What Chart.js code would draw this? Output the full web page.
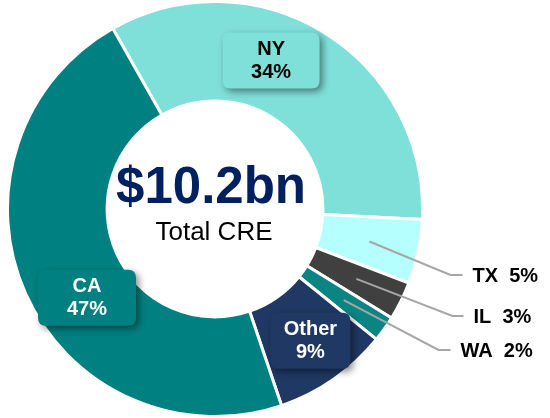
<!DOCTYPE html>
<html>
<head>
<meta charset="utf-8">
<script src="https://cdn.jsdelivr.net/npm/chart.js@4"></script>
<style>
  html, body { margin: 0; padding: 0; background: #fff; }
  #wrap { width: 550px; height: 418px; position: relative; }
</style>
</head>
<body>
<div id="wrap"><canvas id="graficoCre"></canvas></div>
<script>
var estados = ['NY', 'TX', 'IL', 'WA', 'Other', 'CA'];
var percentuais = [34, 5, 3, 2, 9, 47];
var cores = ['#7fdfd9', '#b5ffff', '#404040', '#0b8583', '#203864', '#008080'];
var totalTexto = '$10.2bn';
var subtitulo = 'Total CRE';

// rotulos em caixa (dentro da fatia) e rotulos externos com linha guia
var rotulosCaixa = {
    'NY': { desvio: -11, dr: 1, larg: 97, alt: 56, texto: '#000000' },
    'CA': { desvio: -10.6, dr: -2, larg: 98, alt: 56, texto: '#ffffff' },
    'Other': { desvio: -1, dr: 5, larg: 80, alt: 56, texto: '#ffffff' }
};
var rotulosExternos = {
    'TX': { cotoveloX: 28, cotoveloY: 66, fim: 12 },
    'IL': { cotoveloX: 30, cotoveloY: 107, fim: 11 },
    'WA': { cotoveloX: 16, cotoveloY: 141, fim: 12 }
};

function caixaArredondada(ctx, x, y, w, h, r) {
    ctx.beginPath();
    ctx.moveTo(x + r, y);
    ctx.lineTo(x + w - r, y);
    ctx.quadraticCurveTo(x + w, y, x + w, y + r);
    ctx.lineTo(x + w, y + h - r);
    ctx.quadraticCurveTo(x + w, y + h, x + w - r, y + h);
    ctx.lineTo(x + r, y + h);
    ctx.quadraticCurveTo(x, y + h, x, y + h - r);
    ctx.lineTo(x, y + r);
    ctx.quadraticCurveTo(x, y, x + r, y);
    ctx.closePath();
}

var pluginRotulos = {
    id: 'rotulosCre',
    afterDatasetsDraw: function (chart) {
        var ctx = chart.ctx;
        var meta = chart.getDatasetMeta(0);
        var fonte = 'bold 20px "Liberation Sans", Arial, sans-serif';
        var direita = meta.data[0].x + meta.data[0].outerRadius;

        meta.data.forEach(function (arco, i) {
            var nome = estados[i];
            var p = arco.getProps(['x', 'y', 'startAngle', 'endAngle', 'innerRadius', 'outerRadius'], true);

            if (rotulosCaixa[nome]) {
                var cfg = rotulosCaixa[nome];
                var ang = (p.startAngle + p.endAngle) / 2 + cfg.desvio * Math.PI / 180;
                var r = (p.innerRadius + p.outerRadius) / 2 + cfg.dr;
                var cx = p.x + Math.cos(ang) * r;
                var cy = p.y + Math.sin(ang) * r;
                ctx.save();
                ctx.shadowColor = 'rgba(0,0,0,0.45)';
                ctx.shadowBlur = 7;
                ctx.shadowOffsetX = 3;
                ctx.shadowOffsetY = 3;
                ctx.fillStyle = cores[i];
                caixaArredondada(ctx, cx - cfg.larg / 2, cy - cfg.alt / 2, cfg.larg, cfg.alt, 8);
                ctx.fill();
                ctx.restore();
                ctx.save();
                ctx.fillStyle = cfg.texto;
                ctx.font = fonte;
                ctx.textAlign = 'center';
                ctx.textBaseline = 'middle';
                ctx.fillText(nome, cx, cy - 11);
                ctx.fillText(percentuais[i] + '%', cx, cy + 12);
                ctx.restore();
            }

            if (rotulosExternos[nome]) {
                var ext = rotulosExternos[nome];
                var inicio = arco.getCenterPoint();
                var ex = direita + ext.cotoveloX;
                var ey = p.y + ext.cotoveloY;
                ctx.save();
                ctx.strokeStyle = '#a6a6a6';
                ctx.lineWidth = 2;
                ctx.beginPath();
                ctx.moveTo(inicio.x, inicio.y);
                ctx.lineTo(ex, ey);
                ctx.lineTo(ex + ext.fim, ey);
                ctx.stroke();
                ctx.fillStyle = '#000000';
                ctx.font = fonte;
                ctx.textAlign = 'left';
                ctx.textBaseline = 'middle';
                ctx.fillText(nome + '  ' + percentuais[i] + '%', ex + ext.fim + 10, ey + 1);
                ctx.restore();
            }
        });

        // texto central
        var centro = meta.data[0];
        ctx.save();
        ctx.textAlign = 'center';
        ctx.textBaseline = 'alphabetic';
        ctx.fillStyle = '#002060';
        ctx.font = 'bold 51px "Liberation Sans", Arial, sans-serif';
        ctx.fillText(totalTexto, centro.x - 4, centro.y - 6);
        ctx.fillStyle = '#000000';
        ctx.font = '26px "Liberation Sans", Arial, sans-serif';
        ctx.fillText(subtitulo, centro.x - 1, centro.y + 31);
        ctx.restore();
    }
};

new Chart(document.getElementById('graficoCre'), {
    type: 'doughnut',
    data: {
        labels: estados,
        datasets: [{
            data: percentuais,
            backgroundColor: cores,
            borderColor: '#ffffff',
            borderWidth: 3
        }]
    },
    options: {
        responsive: true,
        maintainAspectRatio: false,
        animation: false,
        rotation: -29.5,
        cutout: '52%',
        layout: { padding: { left: 6, right: 126, top: 0, bottom: 0 } },
        plugins: { legend: { display: false }, tooltip: { enabled: false } }
    },
    plugins: [pluginRotulos]
});
</script>
</body>
</html>
